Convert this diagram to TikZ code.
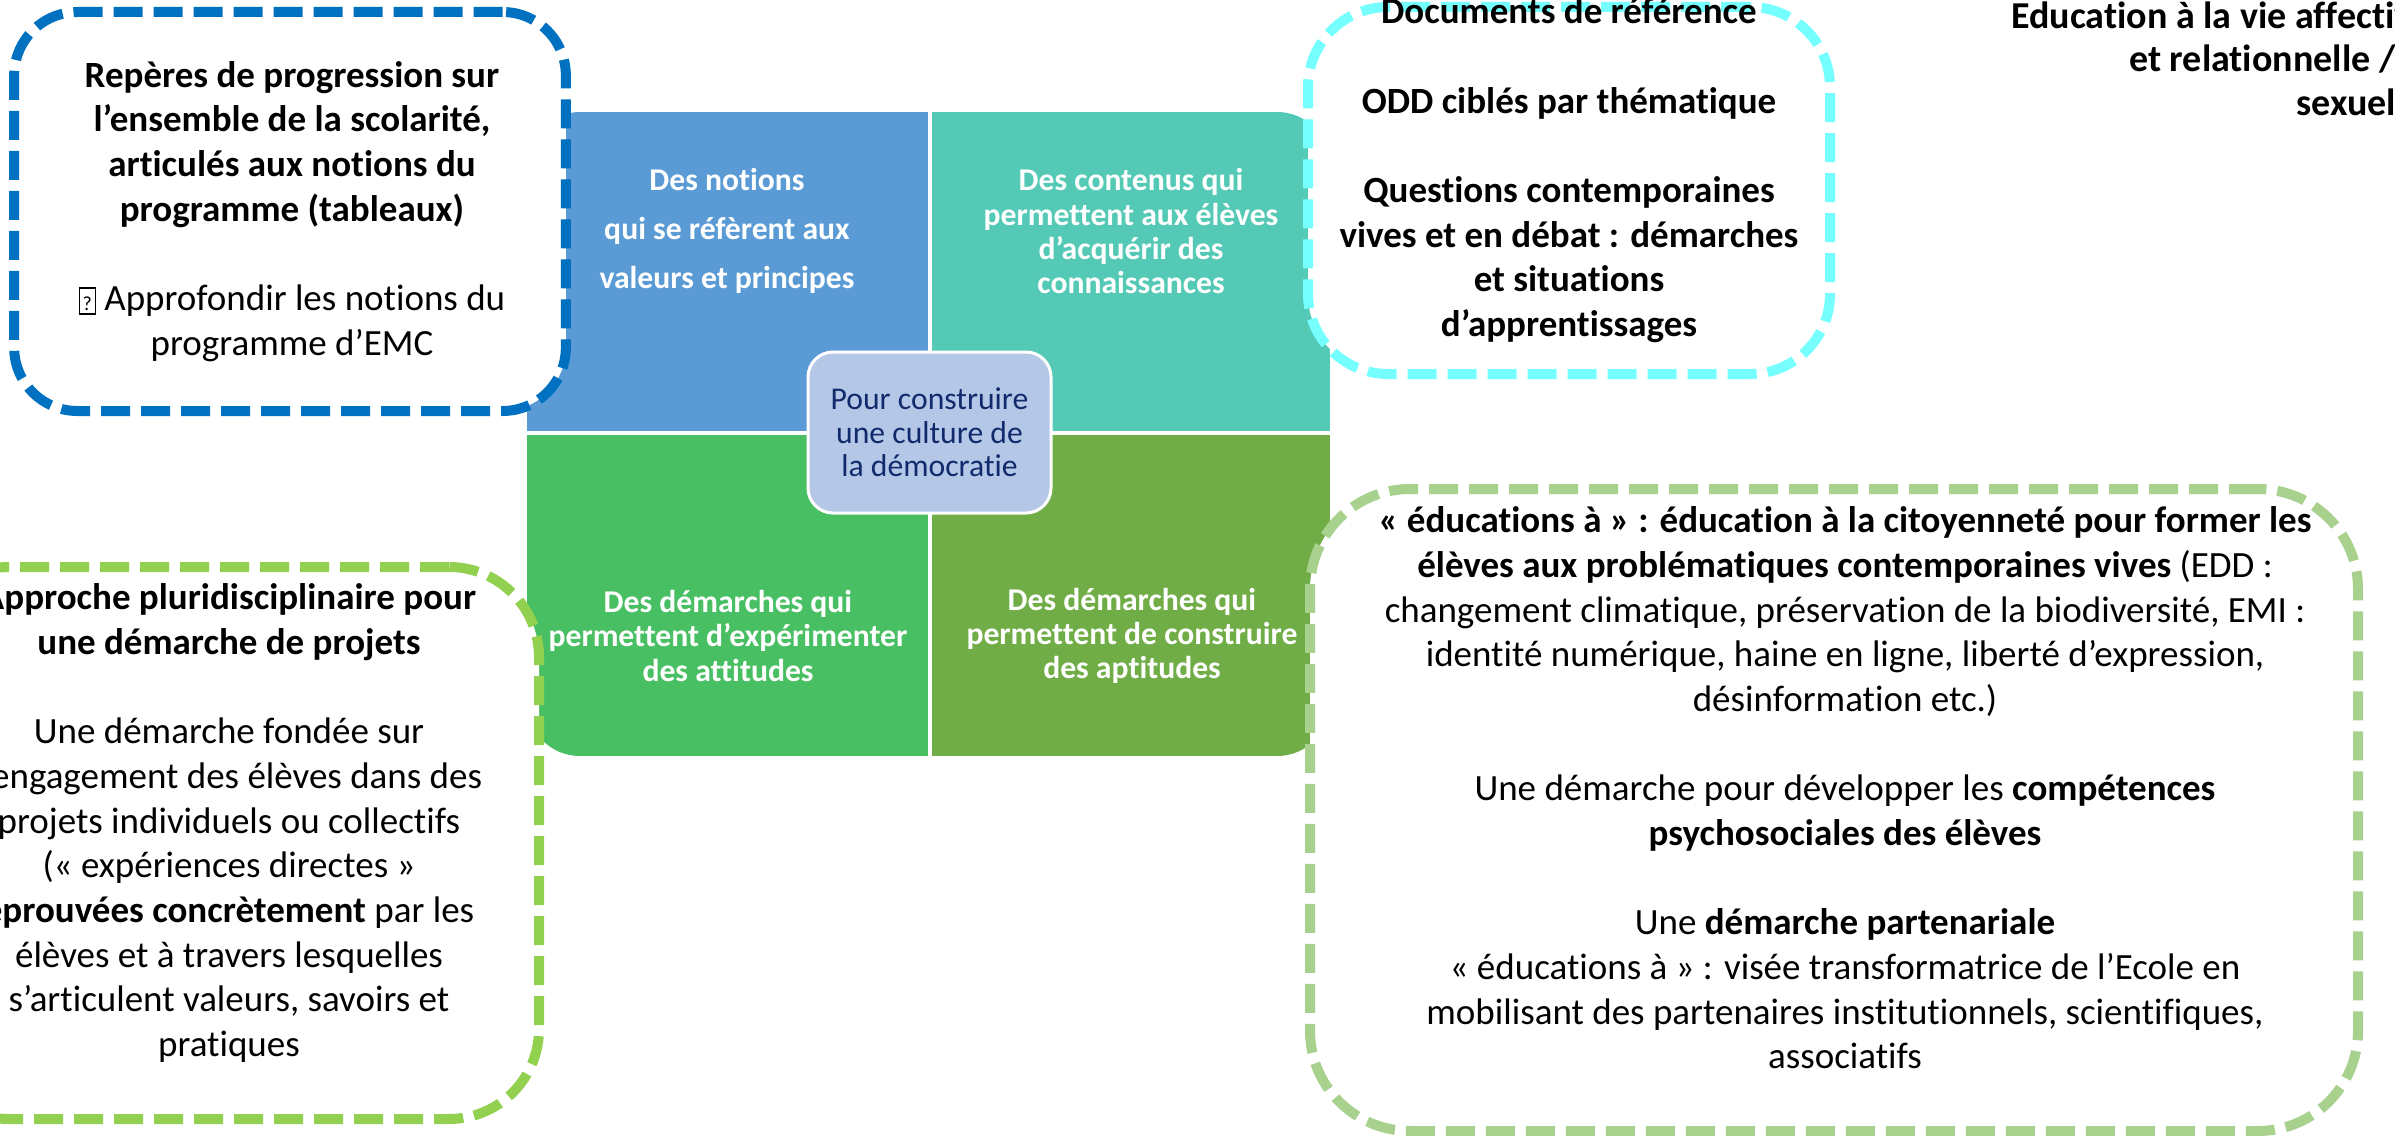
\documentclass[tikz,border=0pt]{standalone}
\usepackage{fontspec}
\setmainfont{Carlito}[Ligatures={TeX,NoCommon}]
\usetikzlibrary{positioning}

\definecolor{cellblue}{HTML}{5B9BD5}
\definecolor{cellteal}{HTML}{54C9B5}
\definecolor{cellgreen}{HTML}{49BF63}
\definecolor{cellolive}{HTML}{70AD47}
\definecolor{hubfill}{HTML}{B4C7E7}
\definecolor{hubtext}{HTML}{112A6B}
\definecolor{dashblue}{HTML}{0070C0}
\definecolor{dashcyan}{HTML}{75FFFF}
\definecolor{dashgreen}{HTML}{92D050}
\definecolor{dashlight}{HTML}{A9D18E}

\newcommand{\nullglyph}{{\setlength{\fboxsep}{0.4pt}\setlength{\fboxrule}{0.4pt}\fbox{\rule[-0.4pt]{0pt}{6.6pt}\makebox[3.6pt]{\fontsize{6}{6}\selectfont ?}}}}

\begin{document}
\begin{tikzpicture}[x=0.3pt, y=-0.3pt,
    celltext/.style={align=center, text=white, font=\fontsize{9.5}{10.3}\selectfont\bfseries},
    hub/.style={rectangle, rounded corners=7.5pt, fill=hubfill, draw=white, line width=0.9pt,
      minimum width=72.9pt, minimum height=48.3pt, align=center, text=hubtext,
      font=\fontsize{9.5}{10.1}\selectfont},
    dashbox/.style={rectangle, fill=white, line width=3pt, dash pattern=on 8.7pt off 3.3pt, inner sep=0pt},
    boxtext/.style={align=center, font=\fontsize{11.1}{13.4}\selectfont},
    boxbold/.style={align=center, font=\fontsize{11.1}{13.4}\selectfont\bfseries}]
    \useasboundingbox (0,0) rectangle (2395,1135);
    \clip (0,0) rectangle (2395,1135);

    % Matrix of four cells
    \begin{scope}
        \clip[rounded corners=15.9pt] (527,112) rectangle (1330,756);
        \fill[cellblue] (527,112) rectangle (929.5,433);
        \fill[cellteal] (929.5,112) rectangle (1330,433);
        \fill[cellgreen] (527,433) rectangle (929.5,756);
        \fill[cellolive] (929.5,433) rectangle (1330,756);
        \draw[white, line width=1.2pt] (929.5,112) -- (929.5,756) (527,433) -- (1330,433);
    \end{scope}

    \node[celltext, font=\fontsize{9.5}{14.7}\selectfont\bfseries] (notions) at (727,231) {Des notions\\ qui se réfèrent aux\\ valeurs et principes};
    \node[celltext] (contenus) at (1131,231.5) {Des contenus qui\\ permettent aux élèves\\ d’acquérir des\\ connaissances};
    \node[celltext] (attitudes) at (728,636) {Des démarches qui\\ permettent d’expérimenter\\ des attitudes};
    \node[celltext] (aptitudes) at (1132,636) {Des démarches qui\\ permettent de construire\\ des aptitudes};

    % Centre
    \node[hub] (culture) at (929.5,432.5) {Pour construire\\ une culture de\\ la démocratie};

    % Dashed frames
    \node[dashbox, draw=dashblue, rounded corners=19pt, minimum width=165.5pt, minimum height=119.7pt] (reperes) at (290,211.5) {};
    \node[dashbox, draw=dashcyan, rounded corners=24pt, minimum width=156.6pt, minimum height=110.1pt] (documents) at (1569,190.5) {};
    \node[dashbox, draw=dashgreen, rounded corners=27pt, minimum width=186pt, minimum height=165.6pt] (approche) at (229,843) {};
    \node[dashbox, draw=dashlight, rounded corners=30pt, minimum width=314.4pt, minimum height=192.6pt] (educations) at (1834,810) {};

    % Texts of the frames
    \node[boxtext] (reperestext) at ([xshift=0.6pt]reperes.center) {\textbf{Repères de progression sur}\\
        \textbf{l’ensemble de la scolarité,}\\
        \textbf{articulés aux notions du}\\
        \textbf{programme (tableaux)}\\[13.4pt]
        \nullglyph{} Approfondir les notions du\\
        programme d’EMC};
    \node[boxbold] (documentstext) at ([yshift=6.1pt]documents.center) {Documents de référence\\[13.4pt]
        ODD ciblés par thématique\\[13.4pt]
        Questions contemporaines\\
        vives et en débat : démarches\\
        et situations\\
        d’apprentissages};
    \node[boxtext] (approchetext) at ([yshift=6pt]approche.center) {\textbf{Approche pluridisciplinaire pour}\\
        \textbf{une démarche de projets}\\[13.4pt]
        Une démarche fondée sur\\
        l’engagement des élèves dans des\\
        projets individuels ou collectifs\\
        (« expériences directes »\\
        \textbf{éprouvées concrètement} par les\\
        élèves et à travers lesquelles\\
        s’articulent valeurs, savoirs et\\
        pratiques};
    \node[boxtext] (educationstext) at (1845,788) {\textbf{« éducations à » : éducation à la citoyenneté pour former les}\\
        \textbf{élèves aux problématiques contemporaines vives} (EDD :\\
        changement climatique, préservation de la biodiversité, EMI :\\
        identité numérique, haine en ligne, liberté d’expression,\\
        désinformation etc.)\\[13.4pt]
        Une démarche pour développer les \textbf{compétences}\\
        \textbf{psychosociales des élèves}\\[13.4pt]
        Une \textbf{démarche partenariale}\\
        « éducations à » : visée transformatrice de l’Ecole en\\
        mobilisant des partenaires institutionnels, scientifiques,\\
        associatifs};

    % Cut-off title, top right
    \node[align=right, anchor=east, inner sep=0pt, font=\fontsize{11.4}{13.05}\selectfont\bfseries] (evars) at (2432,58.5) {Education à la vie affective\\
        et relationnelle /\rule{10.8pt}{0pt}\\
        sexuelle\rule{2pt}{0pt}};
\end{tikzpicture}
\end{document}
